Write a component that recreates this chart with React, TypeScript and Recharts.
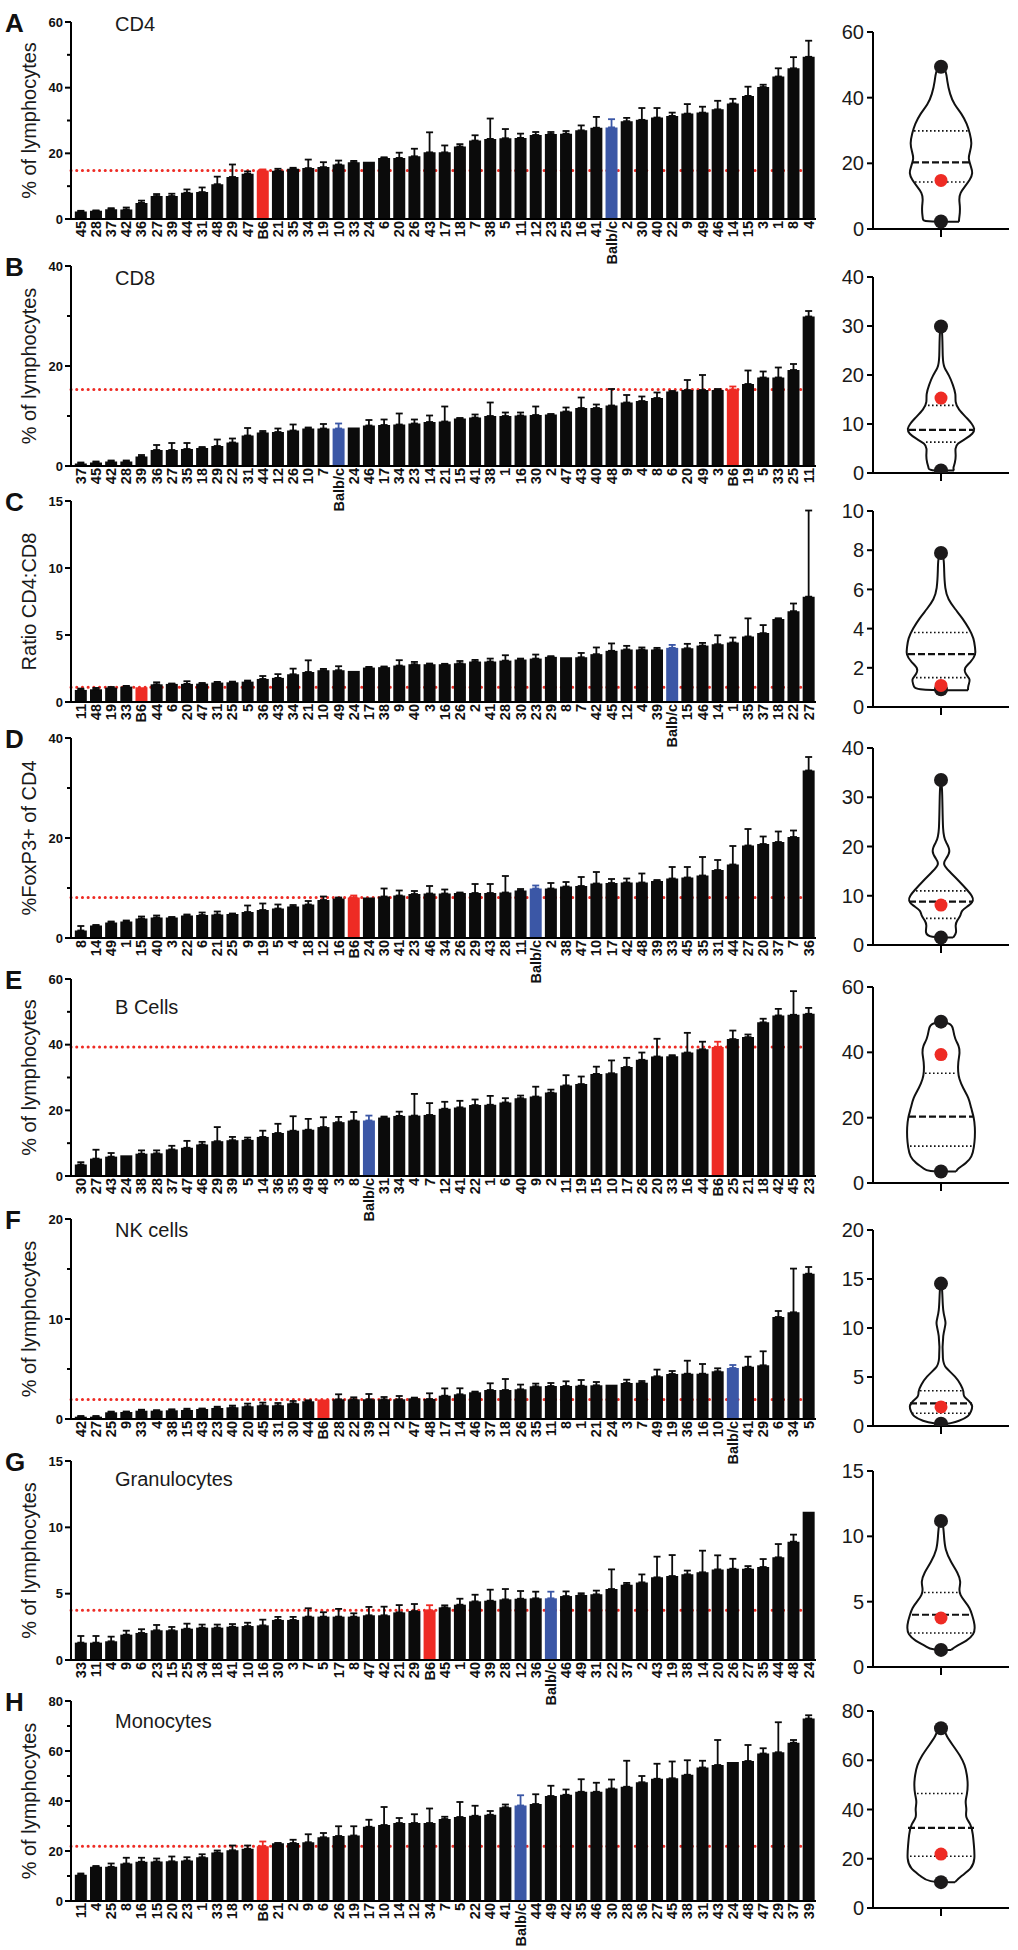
import React from 'react';
import { ComposedChart, Bar, Cell, ErrorBar, XAxis, YAxis, ReferenceLine, ScatterChart, Scatter } from 'recharts';

const FONT = "'Liberation Sans', Arial, sans-serif";
const FONT_NARROW = "'Liberation Sans Narrow', 'Arial Narrow', 'Liberation Sans', Arial, sans-serif";
const BLACK = '#0b0b0b';
const BLUE = '#3b57a6';
const RED = '#ee2b24';

// ---------- Panel A: CD4 ----------
const strainsA = ['45','28','37','42','36','27','39','44','31','48','29','47','B6','21','35','34','19','10','33','24','6','20','26','43','17','18','7','38','5','11','12','23','25','16','41','Balb/c','2','30','40','22','9','49','46','14','15','3','1','8','4'];
const valuesA = [2.3,2.5,3.0,2.9,4.9,7.0,7.0,8.0,8.2,10.6,12.8,13.8,14.8,14.7,15.3,15.5,15.8,16.6,17.3,17.4,18.6,18.6,19.1,20.3,20.3,22.1,23.9,24.4,24.6,24.7,25.6,25.9,26.0,27.0,27.8,27.9,29.8,30.2,30.9,31.4,32.1,32.4,33.4,35.2,37.5,40.2,43.4,45.9,49.4];
const errorsA = [0.2,0.1,0.3,0.6,0.7,0.6,0.7,1.0,1.4,2.3,3.8,0.7,0.3,0.6,0.3,2.6,1.5,1.2,0.4,0,0.2,1.6,2.3,6.1,2.1,0.7,1.6,6.2,2.8,1.3,0.9,0.6,0.8,1.5,3.3,2.5,1.0,3.6,2.9,1.0,2.9,1.8,2.6,1.4,2.8,0.7,2.5,3.4,4.9];

// ---------- Panel B: CD8 ----------
const strainsB = ['37','45','42','28','39','36','27','35','18','29','22','31','44','12','26','10','7','Balb/c','24','46','17','34','23','14','21','15','41','38','1','16','30','2','47','43','40','48','9','4','8','6','20','49','3','B6','19','5','33','25','11'];
const valuesB = [0.5,0.7,0.9,0.9,1.9,3.2,3.2,3.4,3.6,4.0,4.7,6.1,6.7,6.8,7.1,7.5,7.5,7.5,7.7,8.1,8.2,8.3,8.5,8.8,8.9,9.5,9.7,10.0,10.0,10.1,10.2,10.3,10.9,11.6,11.6,12.1,12.7,13.0,13.6,14.9,15.2,15.2,15.2,15.3,16.4,17.7,17.7,19.2,29.9];
const errorsB = [0.2,0.2,0.2,0.2,0.3,1.0,1.4,1.2,0.2,1.3,0.8,1.5,0.3,0.7,1.2,0.2,0.9,1.0,0,1.1,1.1,2.2,0.8,1.3,3.0,0.1,0.6,2.7,0.7,0.6,1.7,0.1,0.8,2.1,0.7,3.3,1.5,0.9,1.1,0.1,2.0,3.0,0.2,0.6,2.7,1.2,2.0,1.2,1.1];

// ---------- Panel C: CD4:CD8 ratio ----------
const strainsC = ['11','48','19','33','B6','44','6','20','47','31','25','5','36','43','34','21','10','49','24','17','38','9','40','3','16','26','2','41','28','30','23','29','8','7','42','45','12','4','39','Balb/c','15','46','14','1','35','37','18','22','27'];
const valuesC = [0.9,0.95,1.07,1.15,1.1,1.32,1.35,1.35,1.37,1.45,1.47,1.52,1.72,1.8,2.07,2.24,2.37,2.37,2.32,2.57,2.6,2.72,2.82,2.82,2.82,2.89,3.02,3.02,3.09,3.17,3.24,3.37,3.34,3.34,3.57,3.82,3.92,3.92,3.92,4.04,4.01,4.21,4.31,4.44,4.89,5.14,6.2,6.78,7.86];
const errorsC = [0.1,0.1,0.05,0.05,0,0.15,0.03,0.2,0.05,0.05,0.05,0.08,0.22,0.28,0.42,0.87,0.1,0.3,0,0.05,0.05,0.4,0.17,0.05,0.03,0.17,0.12,0.22,0.4,0.07,0.3,0.05,0,0.32,0.5,0.55,0.27,0.15,0.12,0.22,0.33,0.2,0.67,0.37,1.35,0.6,0.05,0.57,6.43];

// ---------- Panel D: FoxP3 ----------
const strainsD = ['8','14','49','1','15','40','3','22','6','21','25','9','19','5','4','18','12','16','B6','24','30','41','23','46','34','26','29','43','28','11','Balb/c','2','38','47','10','17','42','48','39','33','45','35','31','44','27','20','37','7','36'];
const valuesD = [1.5,2.5,3.1,3.3,3.9,4.1,4.1,4.5,4.6,4.7,4.8,5.2,5.6,5.9,6.3,6.7,7.6,7.9,8.1,8.1,8.3,8.5,8.8,8.9,8.9,9.0,9.0,9.0,9.1,9.5,9.9,9.9,10.3,10.4,10.9,11.0,11.1,11.1,11.4,11.9,12.1,12.5,13.6,14.7,18.5,18.8,19.2,20.2,33.5];
const errorsD = [0.9,0.1,0.2,0.2,0.4,0.4,0.1,0.2,0.5,0.6,0.1,1.3,1.3,0.8,0.3,0.7,0.7,0.2,0.4,0,1.6,1.0,0.6,1.5,0.8,0.1,1.8,1.8,3.3,0.3,0.6,1.1,0.9,1.8,2.3,0.8,0.8,1.8,0.2,2.3,2.1,3.7,2.0,3.7,3.3,1.5,2.1,1.3,2.7];

// ---------- Panel E: B cells ----------
const strainsE = ['30','27','43','24','38','28','37','47','46','29','39','5','14','36','35','49','48','3','8','Balb/c','31','34','4','7','12','41','22','1','6','40','9','2','11','19','15','10','17','26','20','33','16','44','B6','25','21','18','42','45','23'];
const valuesE = [3.5,5.3,5.9,6.3,6.8,6.9,8.1,8.6,9.6,10.6,10.9,11.0,11.9,13.1,13.8,14.1,14.9,16.4,16.9,16.9,17.8,18.3,18.4,18.6,20.5,20.9,21.6,21.7,22.4,23.7,24.2,25.4,27.6,28.0,31.1,31.3,33.2,35.4,36.4,36.5,37.6,38.6,39.3,41.7,42.3,46.8,48.9,49.1,49.4];
const errorsE = [0.7,2.7,1.1,0,1.0,0.9,1.1,2.1,0.8,4.3,1.0,0.7,1.9,2.8,4.4,3.3,3.0,1.6,2.6,1.5,0.3,1.3,6.6,3.6,2.1,2.0,1.7,2.7,1.3,0.8,3.0,0.9,3.1,2.3,2.2,3.9,2.8,2.2,5.4,0.3,6.0,2.3,1.6,2.6,0.8,1.1,2.0,7.2,1.8];

// ---------- Panel F: NK cells ----------
const strainsF = ['42','27','25','9','33','4','38','15','43','23','40','20','45','31','30','44','B6','28','22','39','12','2','47','48','17','14','46','37','18','26','35','11','8','1','21','24','3','7','49','19','36','16','10','Balb/c','41','29','6','34','5'];
const valuesF = [0.23,0.23,0.67,0.7,0.83,0.83,0.87,0.9,1.0,1.1,1.17,1.27,1.37,1.37,1.57,1.77,1.95,1.97,1.97,1.97,1.97,1.97,2.07,2.0,2.33,2.47,2.67,2.9,2.9,2.97,3.27,3.3,3.3,3.33,3.37,3.43,3.6,3.63,4.27,4.5,4.53,4.53,4.77,5.1,5.23,5.37,10.2,10.67,14.53];
const errorsF = [0.07,0.07,0.07,0.05,0.1,0.05,0.1,0.13,0.05,0.13,0.17,0.27,0.27,0.23,0.23,0.1,0,0.5,0.2,0.53,0.23,0.33,0.07,0.57,0.73,0.6,0.07,0.67,1.1,0.47,0.27,0.3,0.47,0.57,0.33,0,0.33,0.17,0.67,0.3,1.3,0.97,0.3,0.3,1.0,1.4,0.6,4.37,0.67];

// ---------- Panel G: Granulocytes ----------
const strainsG = ['33','11','4','9','6','23','15','25','34','18','41','10','16','30','3','7','5','17','8','47','42','21','29','B6','45','1','40','39','28','12','36','Balb/c','46','49','31','22','37','2','43','19','38','14','20','26','27','35','44','48','24'];
const valuesG = [1.31,1.31,1.41,1.91,2.04,2.24,2.24,2.36,2.44,2.44,2.51,2.56,2.61,3.02,3.02,3.27,3.27,3.27,3.27,3.37,3.37,3.59,3.69,3.75,3.97,4.17,4.42,4.47,4.57,4.62,4.65,4.65,4.82,4.9,4.95,5.35,5.68,5.85,6.23,6.33,6.46,6.61,6.83,6.88,6.88,7.01,7.74,8.92,11.18];
const errorsG = [0.5,0.5,0.35,0.3,0.28,0.4,0.25,0.38,0.23,0.23,0.2,0.25,0.43,0.23,0.23,0.63,0.33,0.58,0.25,0.63,0.65,0.55,0.53,0.38,0.15,0.45,0.5,0.83,0.78,0.58,0.5,0.5,0.35,0.13,0.28,1.48,0.13,0.6,1.56,1.58,0.28,1.63,1.06,0.75,0.2,0.6,1.0,0.53,0];

// ---------- Panel H: Monocytes ----------
const strainsH = ['11','4','25','8','16','15','20','23','1','33','18','3','B6','21','2','9','6','26','19','17','10','14','12','34','7','5','22','40','41','Balb/c','44','49','42','35','46','30','28','36','27','45','38','31','43','24','48','47','29','37','39'];
const valuesH = [10.5,13.7,13.7,15.0,15.7,15.8,15.9,16.2,17.5,19.4,20.3,20.9,21.9,23.1,23.2,23.5,25.5,26.0,26.2,29.7,30.4,31.2,31.2,31.2,32.8,33.6,34.1,34.5,37.5,38.2,38.8,42.0,42.5,43.7,43.7,45.0,45.7,47.5,48.9,49.1,50.5,53.4,54.4,55.6,56.0,59.0,59.5,63.3,73.0];
const errorsH = [0.5,0.3,1.3,2.3,1.6,1.2,1.9,1.3,1.2,0.8,1.9,1.3,1.9,0.1,1.3,3.2,1.7,3.9,3.7,2.8,7.2,2.0,3.5,5.8,0.9,6.0,4.0,1.5,1.1,4.1,3.9,4.1,2.1,5.0,3.6,3.6,10.4,2.5,6.0,6.7,5.8,2.7,10.0,0,6.4,2.1,12.0,1.1,1.3];

// ---------- Violin outlines (level, half-width) and quartiles ----------
const violinLevelsA = [2.2,3,5,7,9,11,13,15,17,19,21.5,23.5,26,29,32,35,38,41,45,49.3];
const violinWidthsA = [18,18,19,19,18,19,24,29,32,30,27,29,31,29,26,21,13,9,6,5];
const quartilesA = [14.3,20.3,29.9];
const quartileWidthsA = [26,29,27];

const violinLevelsB = [0.5,1,2,3.5,5,6,7,8,9,10,11,13,14.5,16,18,20,21.5,23,30];
const violinWidthsB = [13,12,14,15,14,16,25,32,34,31,27,17,14,15,12,8,3,1.5,1.5];
const quartilesB = [6.3,8.8,13.8];
const quartileWidthsB = [15,32,13];

const violinLevelsC = [0.85,1.1,1.4,1.7,2.0,2.3,2.7,3.0,3.5,4.0,4.5,5.0,5.5,6.0,7.0,7.8];
const violinWidthsC = [27,27,30,24,23,30,35,34,33,28,22,14,7,4,3,3];
const quartilesC = [1.5,2.7,3.8];
const quartileWidthsC = [25,33,27];

const violinLevelsD = [1.5,2.5,4,5,6,7,8,9,10,11,13,15,16.5,17.5,19,21,22,33.5];
const violinWidthsD = [12,16,14,16,20,20,28,33,31,27,18,8,1.5,5,10,5,1.5,1.5];
const quartilesD = [5.4,8.8,11.0];
const quartileWidthsD = [15,32,25];

const violinLevelsE = [3.5,4.5,6,8,11,14,17,20,23,26,29,32,34,37,40,42,44,47,49.2];
const violinWidthsE = [15,17,25,31,33,34,34,33,30,28,22,18,17,17,19,18,14,12,11];
const quartilesE = [11.3,20.3,33.6];
const quartileWidthsE = [31,32,16];

const violinLevelsF = [0.25,0.5,1.0,1.5,2.0,2.5,3.0,3.5,4.2,5.0,6.0,6.5,9.5,10.5,11.5,14.5];
const violinWidthsF = [8,18,28,30,32,29,22,23,20,15,4,1.5,1.5,6,1.5,1.5];
const quartilesF = [1.3,2.3,3.6];
const quartileWidthsF = [29,31,21];

const violinLevelsG = [1.3,1.6,2.0,2.5,3.0,3.5,4.0,4.5,5.0,5.5,6.0,6.5,7.2,8.0,9.0,10.0,11.2];
const violinWidthsG = [10,15,26,33,34,33,31,29,24,19,18,20,17,10,4,3,2];
const quartilesG = [2.6,4.0,5.7];
const quartileWidthsG = [31,29,17];

const violinLevelsH = [10.5,13,16,20,25,30,34,37,40,43,46,50,54,58,62,66,70,73];
const violinWidthsH = [14,20,31,34,33,32,30,24,26,24,26,27,26,24,19,12,5,3];
const quartilesH = [21,32.5,46.5];
const quartileWidthsH = [31,33,24];

// ---------- panel text / axes ----------
const panelLetters = ['A','B','C','D','E','F','G','H'];
const panelTitles = ['CD4','CD8','','','B Cells','NK cells','Granulocytes','Monocytes'];
const yLabels = ['% of lymphocytes','% of lymphocytes','Ratio CD4:CD8','%FoxP3+ of CD4','% of lymphocytes','% of lymphocytes','% of lymphocytes','% of lymphocytes'];
const barMax = [60,40,15,40,60,20,15,80];
const barTicks = [[0,10,20,30,40,50,60],[0,10,20,30,40],[0,5,10,15],[0,10,20,30,40],[0,10,20,30,40,50,60],[0,5,10,15,20],[0,5,10,15],[0,10,20,30,40,50,60,70,80]];
const barMajor = [[0,20,40,60],[0,20,40],[0,5,10,15],[0,20,40],[0,20,40,60],[0,10,20],[0,5,10,15],[0,20,40,60,80]];
const violinMax = [60,40,10,40,60,20,15,80];
const violinTicks = [[0,20,40,60],[0,10,20,30,40],[0,2,4,6,8,10],[0,10,20,30,40],[0,20,40,60],[0,5,10,15,20],[0,5,10,15],[0,20,40,60,80]];

// layout (pixels)
const barTops = [22,266,501,738,979,1219,1461,1701];
const barHeights = [197,200,201,200,197,200,199,200];
const violinTops = [32,277,511,748,987,1230,1471,1711];
const violinZeros = [229,473,707,945,1183,1426,1667,1908];
const titleOffsets = [9,19,0,0,35,18,25,27];

const strains = [strainsA,strainsB,strainsC,strainsD,strainsE,strainsF,strainsG,strainsH];
const values = [valuesA,valuesB,valuesC,valuesD,valuesE,valuesF,valuesG,valuesH];
const errors = [errorsA,errorsB,errorsC,errorsD,errorsE,errorsF,errorsG,errorsH];
const vLevels = [violinLevelsA,violinLevelsB,violinLevelsC,violinLevelsD,violinLevelsE,violinLevelsF,violinLevelsG,violinLevelsH];
const vWidths = [violinWidthsA,violinWidthsB,violinWidthsC,violinWidthsD,violinWidthsE,violinWidthsF,violinWidthsG,violinWidthsH];
const quarts = [quartilesA,quartilesB,quartilesC,quartilesD,quartilesE,quartilesF,quartilesG,quartilesH];
const quartW = [quartileWidthsA,quartileWidthsB,quartileWidthsC,quartileWidthsD,quartileWidthsE,quartileWidthsF,quartileWidthsG,quartileWidthsH];

const colorFor = (s: string) => (s === 'B6' ? RED : s === 'Balb/c' ? BLUE : BLACK);

function buildRows(st: string[], vals: number[], errs: number[]) {
  return st.map((s, i) => ({
    name: s,
    value: vals[i],
    errBlack: s !== 'B6' && s !== 'Balb/c' && errs[i] > 0 ? [0, errs[i]] : null,
    errBlue: s === 'Balb/c' && errs[i] > 0 ? [0, errs[i]] : null,
    errRed: s === 'B6' && errs[i] > 0 ? [0, errs[i]] : null,
  }));
}

const XTick = (props: any) => {
  const { x, y, payload } = props;
  return (
    <g transform={`translate(${x},${y})`}>
      <text transform="rotate(-90)" x={0} y={0} dy="0.36em" textAnchor="end"
        fontFamily={FONT_NARROW} fontWeight="bold" fontSize={14.5} fill="#111">{payload.value}</text>
    </g>
  );
};

const makeYTick = (majors: number[]) => (props: any) => {
  const { x, y, payload } = props;
  const ax = x + 9;
  const major = majors.indexOf(payload.value) >= 0;
  return (
    <g>
      <line x1={ax - (major ? 6 : 4)} x2={ax} y1={y} y2={y} stroke="#000" strokeWidth={2} />
      {major && (
        <text x={ax - 8} y={y} dy="0.36em" textAnchor="end" fontFamily={FONT_NARROW}
          fontWeight="bold" fontSize={13} fill="#111">{payload.value}</text>
      )}
    </g>
  );
};

const noShape = () => <g />;
const blackDot = (p: any) => <circle cx={p.cx} cy={p.cy} r={7} fill="#1c1a1b" />;
const redDot = (p: any) => <circle cx={p.cx} cy={p.cy} r={6.5} fill={RED} />;

function BarPanel({ i }: { i: number }) {
  const rows = buildRows(strains[i], values[i], errors[i]);
  const b6 = values[i][strains[i].indexOf('B6')];
  const top = barTops[i];
  const h = barHeights[i];
  return (
    <div style={{ position: 'absolute', left: 31, top: top - 10 }}>
      <ComposedChart width={790} height={10 + h + 62} data={rows}
        margin={{ top: 10, right: 5, left: 0, bottom: 0 }} barCategoryGap="12%">
        <XAxis dataKey="name" interval={0} tickLine={false} tickSize={0} tickMargin={2} height={62}
          axisLine={{ stroke: '#000', strokeWidth: 2 }} tick={<XTick />} padding={{ left: 2, right: 0 }} />
        <YAxis domain={[0, barMax[i]]} ticks={barTicks[i]} interval={0} width={40} tickSize={6} tickMargin={3}
          axisLine={{ stroke: '#000', strokeWidth: 2 }} tickLine={false} tick={makeYTick(barMajor[i])} allowDataOverflow />
        <ReferenceLine y={b6} stroke={RED} strokeWidth={3} strokeDasharray="0.1 5.6" strokeLinecap="round" zIndex={100} />
        <Bar dataKey="value" isAnimationActive={false}>
          {rows.map((r, k) => <Cell key={k} fill={colorFor(r.name)} />)}
          <ErrorBar dataKey="errBlack" direction="y" width={3.5} stroke={BLACK} strokeWidth={1.8} />
          <ErrorBar dataKey="errBlue" direction="y" width={3.5} stroke={BLUE} strokeWidth={1.8} />
          <ErrorBar dataKey="errRed" direction="y" width={3.5} stroke={RED} strokeWidth={1.8} />
        </Bar>
      </ComposedChart>
    </div>
  );
}

function ViolinPanel({ i }: { i: number }) {
  const lv = vLevels[i];
  const wd = vWidths[i];
  const right = lv.map((y, k) => ({ x: wd[k], y }));
  const left = lv.map((y, k) => ({ x: -wd[k], y })).reverse();
  const outline = [...right, ...left, right[0]];
  const q = quarts[i];
  const qw = quartW[i];
  const vals = values[i];
  const extremes = [{ x: 0, y: Math.min(...vals) }, { x: 0, y: Math.max(...vals) }];
  const b6 = [{ x: 0, y: vals[strains[i].indexOf('B6')] }];
  const top = violinTops[i];
  const h = violinZeros[i] - top;
  const seg = (k: number) => [{ x: -qw[k], y: q[k] }, { x: qw[k], y: q[k] }];
  return (
    <div style={{ position: 'absolute', left: 833, top: top - 12 }}>
      <ScatterChart width={181} height={12 + h + 24} margin={{ top: 12, right: 5, left: 0, bottom: 0 }}>
        <XAxis type="number" dataKey="x" domain={[-68, 68]} ticks={[0]} tickFormatter={() => ''} tickSize={8}
          height={24} axisLine={{ stroke: '#000', strokeWidth: 2 }} tickLine={{ stroke: '#000', strokeWidth: 2 }} allowDataOverflow />
        <YAxis type="number" dataKey="y" domain={[0, violinMax[i]]} ticks={violinTicks[i]} interval={0} width={40}
          tickSize={6} tickMargin={3} axisLine={{ stroke: '#000', strokeWidth: 2 }} tickLine={{ stroke: '#000', strokeWidth: 2 }}
          tick={{ fontSize: 20, fill: '#1a1a1a', fontFamily: FONT }} allowDataOverflow />
        <Scatter data={outline} line={{ stroke: '#111', strokeWidth: 2 }} lineType="joint" lineJointType="basis"
          shape={noShape} fill="none" isAnimationActive={false} />
        <Scatter data={seg(0)} line={{ stroke: '#111', strokeWidth: 1.6, strokeDasharray: '1.6 2.4' }} lineType="joint"
          shape={noShape} fill="none" isAnimationActive={false} />
        <Scatter data={seg(2)} line={{ stroke: '#111', strokeWidth: 1.6, strokeDasharray: '1.6 2.4' }} lineType="joint"
          shape={noShape} fill="none" isAnimationActive={false} />
        <Scatter data={seg(1)} line={{ stroke: '#111', strokeWidth: 2.2, strokeDasharray: '7 3' }} lineType="joint"
          shape={noShape} fill="none" isAnimationActive={false} />
        <Scatter data={extremes} shape={blackDot} isAnimationActive={false} />
        <Scatter data={b6} shape={redDot} isAnimationActive={false} />
      </ScatterChart>
    </div>
  );
}

function Labels() {
  return (
    <svg width={1018} height={1950} style={{ position: 'absolute', left: 0, top: 0, pointerEvents: 'none' }}>
      {panelLetters.map((L, i) => (
        <text key={'l' + i} x={5} y={barTops[i] + 10} fontFamily={FONT} fontWeight="bold" fontSize={26} fill="#111">{L}</text>
      ))}
      {yLabels.map((t, i) => {
        const cy = barTops[i] + barHeights[i] / 2;
        return (
          <text key={'y' + i} transform={`translate(29,${cy}) rotate(-90)`} textAnchor="middle" dy="0.36em"
            fontFamily={FONT} fontSize={20} fill="#1a1a1a">{t}</text>
        );
      })}
      {panelTitles.map((t, i) => t ? (
        <text key={'t' + i} x={115} y={barTops[i] + titleOffsets[i]} fontFamily={FONT_NARROW} fontSize={20} fill="#1a1a1a">{t}</text>
      ) : null)}
    </svg>
  );
}

export default function App() {
  const idx = [0, 1, 2, 3, 4, 5, 6, 7];
  return (
    <div style={{ position: 'absolute', left: 0, top: 0, width: 1018, height: 1950, background: '#fff', overflow: 'hidden' }}>
      {idx.map((i) => <BarPanel key={'b' + i} i={i} />)}
      {idx.map((i) => <ViolinPanel key={'v' + i} i={i} />)}
      <Labels />
    </div>
  );
}
